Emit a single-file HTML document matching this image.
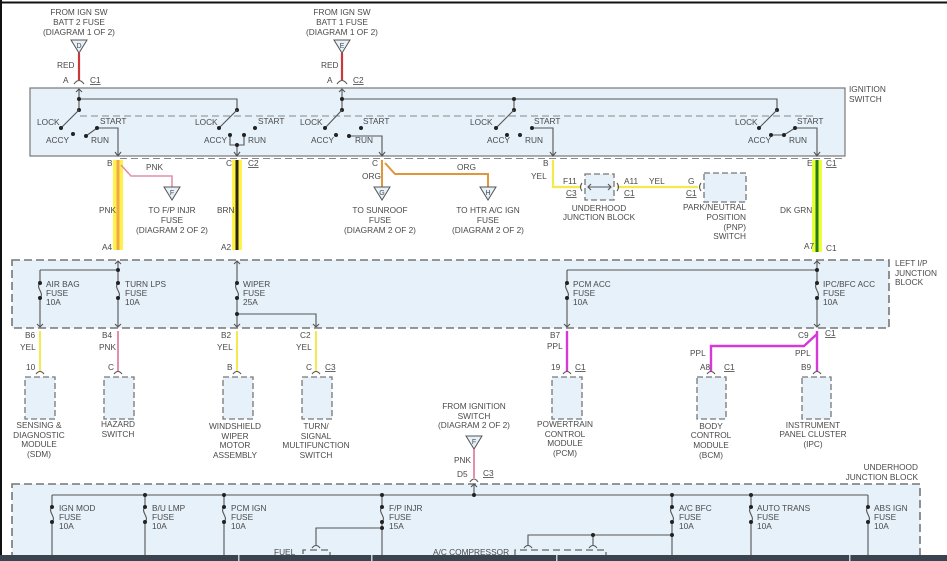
<!DOCTYPE html>
<html><head><meta charset="utf-8"><style>
html,body{margin:0;padding:0;background:#fff;}
svg{display:block;}
text{font-family:"Liberation Sans",sans-serif;font-size:8.3px;fill:#4a4a4a;}
.c{text-anchor:middle;}
.r{text-anchor:end;}
.l{stroke:#555;stroke-width:1.1;fill:none;}
.d{fill:#222;}
.box{fill:#e6f1fa;stroke:#777;stroke-width:1.2;}
.dbox{fill:#e6f1fa;stroke:#777;stroke-width:1.6;stroke-dasharray:8,4;}
.dash{stroke:#888;stroke-width:1;stroke-dasharray:7,4;fill:none;}
.tri{fill:#e6f1fa;stroke:#555;stroke-width:1;}
.u{text-decoration:underline;}
</style></head><body>
<svg width="947" height="561" viewBox="0 0 947 561" xmlns="http://www.w3.org/2000/svg">
<rect x="0" y="0" width="947" height="561" fill="#fff"/>
<line x1="0" y1="2.5" x2="947" y2="2.5" stroke="#111" stroke-width="2"/>
<line x1="1" y1="0" x2="1" y2="561" stroke="#111" stroke-width="2"/>

<!-- top sources -->
<text class="c" x="79" y="15">FROM IGN SW</text><text class="c" x="79" y="25">BATT 2 FUSE</text><text class="c" x="79" y="35">(DIAGRAM 1 OF 2)</text>
<polygon class="tri" points="71,40 87,40 79,53"/><text class="c" x="79" y="48" style="font-size:7px">D</text>
<line x1="79" y1="53" x2="79" y2="80" stroke="#c83a3a" stroke-width="2.2"/>
<text x="57" y="68">RED</text><text x="63" y="83">A</text><text x="90" y="83" class="u">C1</text>
<path class="l" d="M74,84 Q79,77 84,84"/>

<text class="c" x="342" y="15">FROM IGN SW</text><text class="c" x="342" y="25">BATT 1 FUSE</text><text class="c" x="342" y="35">(DIAGRAM 1 OF 2)</text>
<polygon class="tri" points="334,40 350,40 342,53"/><text class="c" x="342" y="48" style="font-size:7px">E</text>
<line x1="342" y1="53" x2="342" y2="80" stroke="#c83a3a" stroke-width="2.2"/>
<text x="321" y="68">RED</text><text x="327" y="83">A</text><text x="353" y="83" class="u">C2</text>
<path class="l" d="M337,84 Q342,77 347,84"/>

<!-- ignition switch -->
<rect class="box" x="30" y="88" width="815" height="68"/>
<text x="849" y="92">IGNITION</text><text x="849" y="102">SWITCH</text>
<line class="dash" x1="80" y1="116" x2="815" y2="116"/>
<line class="dash" x1="120" y1="158.5" x2="845" y2="158.5"/>
<path class="l" d="M79,89 V110 M76,92 L79,89 L82,92 M79,99 H237 V110 M342,89 V110 M339,92 L342,89 L345,92 M342,99 H777 V110 M514,99 V110"/>
<g class="d">
<circle cx="79" cy="99" r="2"/><circle cx="79" cy="110" r="2"/><circle cx="237" cy="110" r="2"/>
<circle cx="342" cy="99" r="2"/><circle cx="342" cy="110" r="2"/><circle cx="514" cy="99" r="2"/><circle cx="514" cy="110" r="2"/><circle cx="777" cy="110" r="2"/>
</g>
<!-- group1 -->
<path class="l" d="M79,110 L61,128 M86,136 L97,128 H118 V155 M115,152 L118,156 L121,152"/>
<g class="d"><circle cx="61" cy="128" r="2"/><circle cx="73" cy="134" r="2"/><circle cx="86" cy="136" r="2"/><circle cx="97" cy="128" r="2"/></g>
<text x="37" y="125">LOCK</text><text x="100" y="124">START</text><text x="46" y="143">ACCY</text><text x="91" y="143">RUN</text>
<!-- group2 -->
<path class="l" d="M237,110 L219,128 M230,135 V145 H244 V135 M237,145 V155 M234,152 L237,156 L240,152"/>
<g class="d"><circle cx="219" cy="128" r="2"/><circle cx="255" cy="128" r="2"/><circle cx="230" cy="135" r="2"/><circle cx="244" cy="135" r="2"/><circle cx="237" cy="145" r="2"/></g>
<text x="195" y="125">LOCK</text><text x="258" y="124">START</text><text x="204" y="143">ACCY</text><text x="248" y="143">RUN</text>
<!-- group3 -->
<path class="l" d="M342,110 L325,128 M349,136 H382 V155 M379,152 L382,156 L385,152"/>
<g class="d"><circle cx="325" cy="128" r="2"/><circle cx="361" cy="128" r="2"/><circle cx="336" cy="135" r="2"/><circle cx="349" cy="136" r="2"/></g>
<text x="300" y="125">LOCK</text><text x="363" y="124">START</text><text x="311" y="143">ACCY</text><text x="355" y="143">RUN</text>
<!-- group4 -->
<path class="l" d="M514,110 L496,128 M532,128 H553 V155 M550,152 L553,156 L556,152"/>
<g class="d"><circle cx="496" cy="128" r="2"/><circle cx="532" cy="128" r="2"/><circle cx="507" cy="135" r="2"/><circle cx="520" cy="135" r="2"/></g>
<text x="470" y="125">LOCK</text><text x="534" y="124">START</text><text x="487" y="143">ACCY</text><text x="525" y="143">RUN</text>
<!-- group5 -->
<path class="l" d="M777,110 L759,128 M771,135 H784 L795,128 H817 V155 M814,152 L817,156 L820,152"/>
<g class="d"><circle cx="759" cy="128" r="2"/><circle cx="771" cy="135" r="2"/><circle cx="784" cy="135" r="2"/><circle cx="795" cy="128" r="2"/></g>
<text x="735" y="125">LOCK</text><text x="797" y="124">START</text><text x="748" y="143">ACCY</text><text x="789" y="143">RUN</text>

<!-- below switch -->
<line x1="118" y1="160" x2="118" y2="250" stroke="#fff24a" stroke-width="10"/>
<line x1="118" y1="160" x2="118" y2="250" stroke="#f3a64a" stroke-width="3"/>
<path d="M121,165 L131,176 H172 V187" fill="none" stroke="#e48fa8" stroke-width="1.6"/>
<polygon class="tri" points="164,187 180,187 172,200"/><text class="c" x="172" y="195" style="font-size:7px">F</text>
<text x="107" y="166">B</text><text x="146" y="170">PNK</text><text x="99" y="213">PNK</text>
<text class="c" x="172" y="213">TO F/P INJR</text><text class="c" x="172" y="223">FUSE</text><text class="c" x="172" y="233">(DIAGRAM 2 OF 2)</text>
<text x="102" y="250">A4</text>

<line x1="237" y1="160" x2="237" y2="250" stroke="#fff24a" stroke-width="10"/>
<line x1="237" y1="160" x2="237" y2="250" stroke="#2a2410" stroke-width="3"/>
<text x="226" y="166">C</text><text x="248" y="166" class="u">C2</text><text x="217" y="213">BRN</text><text x="221" y="250">A2</text>

<line x1="382" y1="160" x2="382" y2="187" stroke="#e0963a" stroke-width="2"/>
<path d="M385,163 L395,174 H488 V187" fill="none" stroke="#e0963a" stroke-width="2"/>
<polygon class="tri" points="374,187 390,187 382,200"/><text class="c" x="382" y="195" style="font-size:7px">G</text>
<polygon class="tri" points="480,187 496,187 488,200"/><text class="c" x="488" y="195" style="font-size:7px">H</text>
<text x="372" y="166">C</text><text x="362" y="179">ORG</text><text x="457" y="170">ORG</text>
<text class="c" x="380" y="213">TO SUNROOF</text><text class="c" x="380" y="223">FUSE</text><text class="c" x="380" y="233">(DIAGRAM 2 OF 2)</text>
<text class="c" x="488" y="213">TO HTR A/C IGN</text><text class="c" x="488" y="223">FUSE</text><text class="c" x="488" y="233">(DIAGRAM 2 OF 2)</text>

<path d="M553,160 V187 H580 M617,187 H698" fill="none" stroke="#f2ea50" stroke-width="2.2"/>
<text x="543" y="166">B</text><text x="531" y="179">YEL</text>
<rect class="dbox" x="585" y="174" width="29" height="26" style="stroke-width:1.3;stroke-dasharray:6,3"/>
<path class="l" d="M588,187 H611 M591,184 L588,187 L591,190 M608,184 L611,187 L608,190 M582,183 Q579,187 582,191 M617,183 Q620,187 617,191 M701,183 Q698,187 701,191"/>
<text x="563" y="184">F11</text><text x="566" y="196" class="u">C3</text>
<text x="624" y="184">A11</text><text x="624" y="196" class="u">C1</text><text x="649" y="184">YEL</text>
<text x="688" y="184">G</text><text x="686" y="196" class="u">C1</text>
<rect class="dbox" x="704" y="173" width="42" height="29" style="stroke-width:1.3;stroke-dasharray:6,3"/>
<text class="c" x="599" y="211">UNDERHOOD</text><text class="c" x="599" y="220">JUNCTION BLOCK</text>
<text class="r" x="746" y="210">PARK/NEUTRAL</text><text class="r" x="746" y="220">POSITION</text><text class="r" x="746" y="230">(PNP)</text><text class="r" x="746" y="239">SWITCH</text>

<line x1="817" y1="160" x2="817" y2="252" stroke="#e9ff3a" stroke-width="10"/>
<line x1="817" y1="160" x2="817" y2="252" stroke="#237a1a" stroke-width="3"/>
<text x="807" y="166">E</text><text x="826" y="166" class="u">C1</text><text x="780" y="213">DK GRN</text>
<text x="804" y="249">A7</text><text x="826" y="251">C1</text>

<!-- left I/P junction block -->
<rect class="dbox" x="12" y="260" width="877" height="68"/>
<text x="895" y="266">LEFT I/P</text><text x="895" y="276">JUNCTION</text><text x="895" y="285">BLOCK</text>
<path class="l" d="M118,261 V327 M115,264 L118,261 L121,264 M40,270 H118 M40,270 V327 M37,324 L40,327 L43,324 M115,324 L118,327 L121,324
M237,261 V327 M234,264 L237,261 L240,264 M234,324 L237,327 L240,324 M237,314 H316 V327 M313,324 L316,327 L319,324
M817,261 V327 M814,264 L817,261 L820,264 M814,324 L817,327 L820,324 M567,270 H817 M567,270 V327 M564,324 L567,327 L570,324"/>
<g fill="#e6f1fa"><rect x="36" y="284" width="8" height="13"/><rect x="114" y="284" width="8" height="13"/><rect x="233" y="284" width="8" height="13"/><rect x="563" y="284" width="8" height="13"/><rect x="813" y="284" width="8" height="13"/></g>
<path class="l" d="M40,283 C35,288 45,293 40,298 M118,283 C113,288 123,293 118,298 M237,283 C232,288 242,293 237,298 M567,283 C562,288 572,293 567,298 M817,283 C812,288 822,293 817,298"/>
<g class="d">
<circle cx="118" cy="270" r="2"/><circle cx="817" cy="270" r="2"/><circle cx="237" cy="314" r="2"/>
<circle cx="40" cy="283" r="2"/><circle cx="40" cy="298" r="2"/><circle cx="118" cy="283" r="2"/><circle cx="118" cy="298" r="2"/>
<circle cx="237" cy="283" r="2"/><circle cx="237" cy="298" r="2"/><circle cx="567" cy="283" r="2"/><circle cx="567" cy="298" r="2"/>
<circle cx="817" cy="283" r="2"/><circle cx="817" cy="298" r="2"/>
</g>
<text x="46" y="287">AIR BAG</text><text x="46" y="296">FUSE</text><text x="46" y="305">10A</text>
<text x="125" y="287">TURN LPS</text><text x="125" y="296">FUSE</text><text x="125" y="305">10A</text>
<text x="243" y="287">WIPER</text><text x="243" y="296">FUSE</text><text x="243" y="305">25A</text>
<text x="573" y="287">PCM ACC</text><text x="573" y="296">FUSE</text><text x="573" y="305">10A</text>
<text x="823" y="287">IPC/BFC ACC</text><text x="823" y="296">FUSE</text><text x="823" y="305">10A</text>

<!-- outputs -->
<g fill="none" stroke-width="2">
<line x1="40" y1="331" x2="40" y2="371" stroke="#f2ea50"/>
<line x1="118" y1="331" x2="118" y2="371" stroke="#e48fa8"/>
<line x1="237" y1="331" x2="237" y2="371" stroke="#f2ea50"/>
<line x1="316" y1="331" x2="316" y2="371" stroke="#f2ea50"/>
<line x1="567" y1="331" x2="567" y2="371" stroke="#d63ad6" stroke-width="2.4"/>
<line x1="817" y1="331" x2="817" y2="371" stroke="#d63ad6" stroke-width="2.4"/>
<path d="M817,334 L804,346 H711 V371" stroke="#d63ad6" stroke-width="2.4"/>
</g>
<path class="l" d="M36,374 Q40,369 44,374 M114,374 Q118,369 122,374 M233,374 Q237,369 241,374 M312,374 Q316,369 320,374 M563,374 Q567,369 571,374 M707,374 Q711,369 715,374 M813,374 Q817,369 821,374"/>
<text x="25" y="338">B6</text><text x="20" y="350">YEL</text><text x="26" y="370">10</text>
<text x="102" y="338">B4</text><text x="99" y="350">PNK</text><text x="108" y="370">C</text>
<text x="221" y="338">B2</text><text x="217" y="350">YEL</text><text x="227" y="370">B</text>
<text x="300" y="338">C2</text><text x="296" y="350">YEL</text><text x="306" y="370">C</text><text x="325" y="370" class="u">C3</text>
<text x="550" y="338">B7</text><text x="547" y="349">PPL</text><text x="551" y="370">19</text><text x="575" y="370" class="u">C1</text>
<text x="798" y="338">C9</text><text x="825" y="336" class="u">C1</text><text x="690" y="356">PPL</text><text x="795" y="356">PPL</text>
<text x="700" y="370">A8</text><text x="724" y="370" class="u">C1</text><text x="801" y="370">B9</text>
<g class="dbox" style="stroke-width:1.3;stroke-dasharray:6,3">
<rect x="25" y="377" width="30" height="42"/><rect x="104" y="377" width="30" height="42"/><rect x="223" y="377" width="30" height="42"/>
<rect x="302" y="377" width="30" height="42"/><rect x="552" y="377" width="30" height="42"/><rect x="697" y="377" width="29" height="42"/><rect x="802" y="377" width="29" height="42"/>
</g>
<text class="c" x="39" y="428">SENSING &amp;</text><text class="c" x="39" y="438">DIAGNOSTIC</text><text class="c" x="39" y="447">MODULE</text><text class="c" x="39" y="457">(SDM)</text>
<text class="c" x="118" y="427">HAZARD</text><text class="c" x="118" y="437">SWITCH</text>
<text class="c" x="235" y="429">WINDSHIELD</text><text class="c" x="235" y="439">WIPER</text><text class="c" x="235" y="448">MOTOR</text><text class="c" x="235" y="458">ASSEMBLY</text>
<text class="c" x="316" y="429">TURN/</text><text class="c" x="316" y="439">SIGNAL</text><text class="c" x="316" y="448">MULTIFUNCTION</text><text class="c" x="316" y="458">SWITCH</text>
<text class="c" x="565" y="427">POWERTRAIN</text><text class="c" x="565" y="437">CONTROL</text><text class="c" x="565" y="446">MODULE</text><text class="c" x="565" y="456">(PCM)</text>
<text class="c" x="711" y="429">BODY</text><text class="c" x="711" y="438">CONTROL</text><text class="c" x="711" y="448">MODULE</text><text class="c" x="711" y="458">(BCM)</text>
<text class="c" x="813" y="428">INSTRUMENT</text><text class="c" x="813" y="437">PANEL CLUSTER</text><text class="c" x="813" y="447">(IPC)</text>

<!-- from ignition switch -->
<text class="c" x="474" y="409">FROM IGNITION</text><text class="c" x="474" y="419">SWITCH</text><text class="c" x="474" y="428">(DIAGRAM 2 OF 2)</text>
<polygon class="tri" points="466,436 482,436 474,449"/><text class="c" x="474" y="444" style="font-size:7px">F</text>
<line x1="474" y1="449" x2="474" y2="478" stroke="#e48fa8" stroke-width="2"/>
<path class="l" d="M470,482 Q474,476 478,482"/>
<text x="454" y="463">PNK</text><text x="457" y="477">D5</text><text x="483" y="476" class="u">C3</text>

<!-- underhood junction block -->
<text class="r" x="918" y="470">UNDERHOOD</text><text class="r" x="918" y="480">JUNCTION BLOCK</text>
<rect class="dbox" x="12" y="484" width="908" height="90"/>
<path class="l" d="M52,495 H868 M474,484 V495 M471,487 L474,484 L477,487
M52,495 V561 M145,495 V561 M224,495 V561 M382,495 V561 M672,495 V561 M751,495 V561 M868,495 V561
M382,528 H316 V545 M312,548 Q316,543 320,548 M672,535 H528 V545 M524,548 Q528,543 532,548 M593,535 V545 M589,548 Q593,543 597,548"/>
<g fill="#e6f1fa"><rect x="48" y="508" width="8" height="13"/><rect x="141" y="508" width="8" height="13"/><rect x="220" y="508" width="8" height="13"/><rect x="378" y="508" width="8" height="13"/><rect x="668" y="508" width="8" height="13"/><rect x="747" y="508" width="8" height="13"/><rect x="864" y="508" width="8" height="13"/></g>
<path class="l" d="M52,507 C47,512 57,517 52,522 M145,507 C140,512 150,517 145,522 M224,507 C219,512 229,517 224,522 M382,507 C377,512 387,517 382,522 M672,507 C667,512 677,517 672,522 M751,507 C746,512 756,517 751,522 M868,507 C863,512 873,517 868,522"/>
<g class="d">
<circle cx="145" cy="495" r="2"/><circle cx="224" cy="495" r="2"/><circle cx="382" cy="495" r="2"/><circle cx="474" cy="495" r="2"/><circle cx="672" cy="495" r="2"/><circle cx="751" cy="495" r="2"/>
<circle cx="382" cy="528" r="2"/><circle cx="672" cy="535" r="2"/><circle cx="593" cy="535" r="2"/>
<circle cx="52" cy="507" r="2"/><circle cx="52" cy="522" r="2"/><circle cx="145" cy="507" r="2"/><circle cx="145" cy="522" r="2"/>
<circle cx="224" cy="507" r="2"/><circle cx="224" cy="522" r="2"/><circle cx="382" cy="507" r="2"/><circle cx="382" cy="522" r="2"/>
<circle cx="672" cy="507" r="2"/><circle cx="672" cy="522" r="2"/><circle cx="751" cy="507" r="2"/><circle cx="751" cy="522" r="2"/>
<circle cx="868" cy="507" r="2"/><circle cx="868" cy="522" r="2"/>
</g>
<path class="dash" d="M303,554 V550 H330 V556 M515,556 V550 H606 V556" style="stroke:#666;stroke-width:1.3"/>
<text x="59" y="511">IGN MOD</text><text x="59" y="520">FUSE</text><text x="59" y="529">10A</text>
<text x="152" y="511">B/U LMP</text><text x="152" y="520">FUSE</text><text x="152" y="529">10A</text>
<text x="231" y="511">PCM IGN</text><text x="231" y="520">FUSE</text><text x="231" y="529">10A</text>
<text x="389" y="511">F/P INJR</text><text x="389" y="520">FUSE</text><text x="389" y="529">15A</text>
<text x="679" y="511">A/C BFC</text><text x="679" y="520">FUSE</text><text x="679" y="529">10A</text>
<text x="757" y="511">AUTO TRANS</text><text x="757" y="520">FUSE</text><text x="757" y="529">10A</text>
<text x="874" y="511">ABS IGN</text><text x="874" y="520">FUSE</text><text x="874" y="529">10A</text>
<text x="274" y="555">FUEL</text><text x="433" y="555">A/C COMPRESSOR</text>

<!-- bottom bar -->
<rect x="0" y="555" width="947" height="6" fill="#3a4450"/>
<g fill="#c8ced4"><rect x="238" y="555" width="1.5" height="6"/><rect x="371" y="555" width="1.5" height="6"/><rect x="556" y="555" width="1.5" height="6"/><rect x="849" y="555" width="1.5" height="6"/></g>
</svg>
</body></html>
